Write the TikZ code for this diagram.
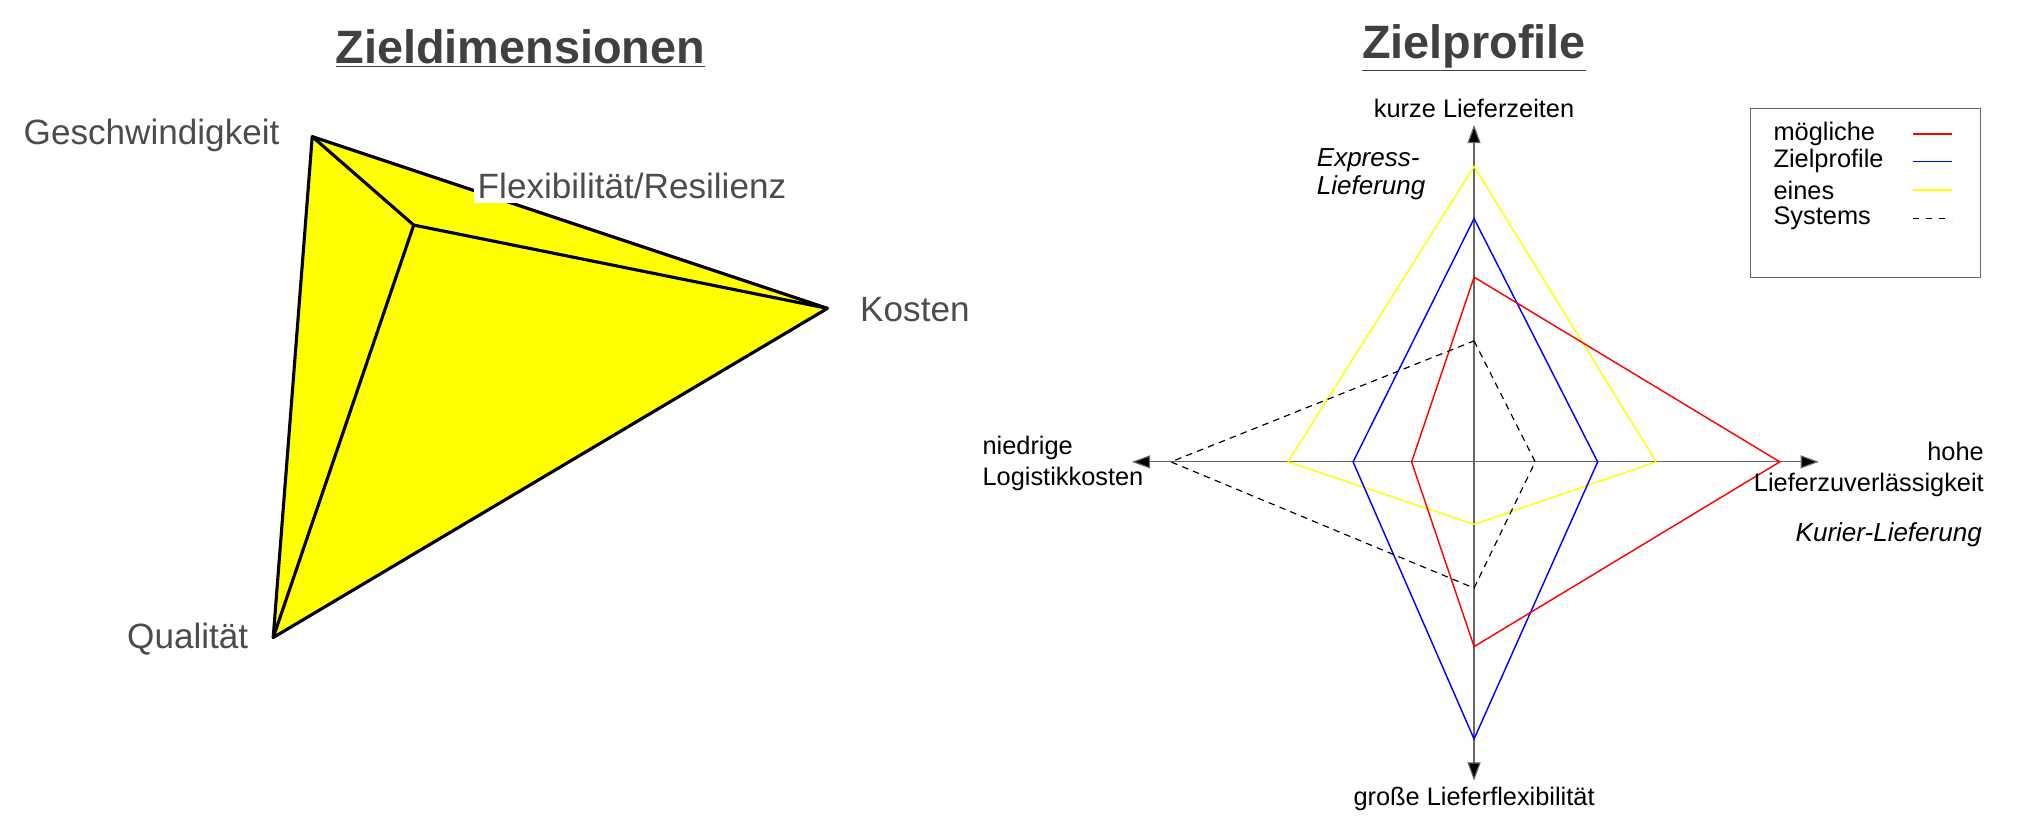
\documentclass[tikz,border=0pt]{standalone}
\usepackage{fontspec}
\setmainfont{Liberation Sans}
\usetikzlibrary{arrows.meta}
\definecolor{yel}{RGB}{255,255,0}
\begin{document}
\begin{tikzpicture}[x=1pt,y=-1pt,
  title/.style={font=\fontsize{36}{40}\selectfont\bfseries,text=black!75},
  tlab/.style={font=\fontsize{27}{31}\selectfont,text=black!70,inner sep=1pt},
  edge/.style={line width=2.4pt,line join=round},
  lab/.style={font=\fontsize{19.5}{24}\selectfont,inner sep=1pt},
  hand/.style={font=\fontsize{20}{21}\selectfont\itshape,inner sep=0pt},
  ax/.style={gray!80!black,line width=0.9pt,-{Triangle[length=14pt,width=10pt,fill=black]}},
  prof/.style={line width=1.1pt}]
\useasboundingbox (0,0) rectangle (1568,640);
% left
\node[title] (t1) at (400,37) {\underline{Zieldimensionen}};
\coordinate (A) at (240,105);
\coordinate (K) at (636,237);
\coordinate (Q) at (210,490);
\coordinate (I) at (318,173);
\fill[yel] (A) -- (K) -- (Q) -- cycle;
\draw[edge] (A) -- (K) -- (Q) -- cycle;
\draw[edge] (A) -- (I) -- (K);
\draw[edge] (I) -- (Q);
\node[tlab,anchor=east] (lg) at (216,104) {Geschwindigkeit};
\node[tlab,anchor=west,fill=white,inner sep=3pt] (lf) at (364,143) {Flexibilität/Resilienz};
\node[tlab,anchor=west] (lk) at (660,238) {Kosten};
\node[tlab,anchor=east] (lq) at (192,491) {Qualität};
% right
\node[title] (t2) at (1133,37) {\underline{Zielprofile}};
\coordinate (C) at (1133,355);
\coordinate (L) at (870,355);
\coordinate (R) at (1398,355);
\coordinate (T) at (1133,96);
\coordinate (B) at (1133,600);
\draw[ax] (C) -- (L);
\draw[ax] (C) -- (R);
\draw[ax] (C) -- (T);
\draw[ax] (C) -- (B);
\draw[prof,yel] (1133,128) -- (1273,355) -- (1133,403) -- (990,355) -- cycle;
\draw[prof,blue] (1133,168) -- (1228,355) -- (1133,568) -- (1040,355) -- cycle;
\draw[prof,red] (1133,213) -- (1368,355) -- (1133,497) -- (1085,355) -- cycle;
\draw[line width=0.9pt,dash pattern=on 5pt off 4pt] (1133,262) -- (1180,355) -- (1133,452) -- (900,355) -- cycle;
\node[lab] (lt) at (1133,83) {kurze Lieferzeiten};
\node[lab] (lb) at (1133,614) {große Lieferflexibilität};
\node[lab,align=left,anchor=east] (ll) at (880,356) {niedrige\\Logistikkosten};
\node[lab,align=right,anchor=east] (lr) at (1526,361) {hohe\\Lieferzuverlässigkeit};
\node[hand,align=left,anchor=west] (he) at (1012,134) {Express-\\Lieferung};
\node[hand,anchor=west] (hk) at (1380,411) {Kurier-Lieferung};
% legend
\draw[line width=0.6pt,black!60] (1345,83) rectangle (1522,213);
\node[lab,anchor=west] (g1) at (1362,103) {mögliche};
\node[lab,anchor=west] (g2) at (1362,124) {Zielprofile};
\node[lab,anchor=west] (g3) at (1362,146) {eines};
\node[lab,anchor=west] (g4) at (1362,168) {Systems};
\draw[red,line width=0.9pt] (1470,103) -- (1500,103);
\draw[blue,line width=0.9pt] (1470,124) -- (1500,124);
\draw[yel,line width=0.9pt] (1470,146) -- (1500,146);
\draw[line width=0.9pt,dash pattern=on 5pt off 5pt] (1470,168) -- (1500,168);
\end{tikzpicture}
\end{document}
